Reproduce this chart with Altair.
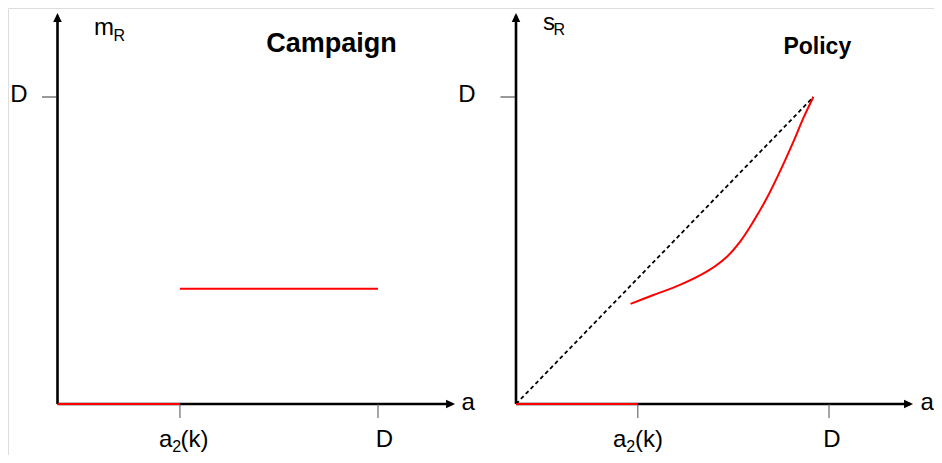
import altair as alt
import pandas as pd

FONT = "Liberation Sans"

# ---------------- data ----------------
# Campaign panel (left): axes a (horizontal) and m_R (vertical)
camp_tick_x = [0.382, 1.0]          # a2(k), D
camp_y_tick = [1.0]                 # D
camp_axis_end_x = 1.232
axis_end_y = 1.265
camp_level = 0.3756                 # m_R for a between a2(k) and D
camp_level_x = [0.382, 1.0]
camp_zero_x = [0.0, 0.382]          # m_R = 0 for a < a2(k)

# Policy panel (right): axes a (horizontal) and s_R (vertical)
pol_tick_x = [0.389, 1.0]           # a2(k), D
pol_y_tick = [1.0]
pol_axis_end_x = 1.260
pol_diag_x = [0.0, 0.950]
pol_diag_y = [0.0, 1.0]
pol_curve_x = [0.366, 0.439, 0.524, 0.609, 0.673, 0.716, 0.758, 0.801, 0.843, 0.886, 0.918, 0.950]
pol_curve_y = [0.326, 0.355, 0.388, 0.431, 0.479, 0.529, 0.594, 0.670, 0.757, 0.854, 0.931, 1.0]
pol_zero_x = [0.0, 0.389]

# ---------------- scales ----------------
YS = alt.Scale(domain=[-0.166124, 1.289902], nice=False, zero=False)
XS_L = alt.Scale(domain=[-0.154446, 2.734789], nice=False, zero=False)
XS_R = alt.Scale(domain=[-1.623003, 1.335463], nice=False, zero=False)

UP = "M0,-0.6L0.95,1.4L-0.95,1.4Z"
RIGHT = "M0.6,0L-1.4,-0.95L-1.4,0.95Z"

LBL = 24
SUB = 16


def enc(xs, text=False):
    e = dict(x=alt.X("x:Q", scale=xs, axis=None), y=alt.Y("y:Q", scale=YS, axis=None))
    if text:
        e["text"] = alt.Text("t:N")
    return e


def segs(x, y, x2, y2, xs, color, width, dash=None):
    df = pd.DataFrame({"x": x, "y": y, "x2": x2, "y2": y2})
    kw = dict(color=color, strokeWidth=width, strokeCap="butt")
    if dash:
        kw["strokeDash"] = dash
    return alt.Chart(df).mark_rule(**kw).encode(
        x=alt.X("x:Q", scale=xs, axis=None), y=alt.Y("y:Q", scale=YS, axis=None),
        x2="x2:Q", y2="y2:Q")


def label(x, y, t, xs, dx, dy, size=LBL, align="center", weight="normal"):
    df = pd.DataFrame({"x": [x], "y": [y], "t": [t]})
    return alt.Chart(df).mark_text(dx=dx, dy=dy, fontSize=size, align=align, baseline="alphabetic",
                                   font=FONT, fontWeight=weight, color="black").encode(**enc(xs, True))


def arrows(xend, xs):
    up = alt.Chart(pd.DataFrame({"x": [0.0], "y": [axis_end_y]})).mark_point(
        shape=UP, filled=True, size=81, color="black", opacity=1, strokeWidth=0).encode(**enc(xs))
    rt = alt.Chart(pd.DataFrame({"x": [xend], "y": [0.0]})).mark_point(
        shape=RIGHT, filled=True, size=81, color="black", opacity=1, strokeWidth=0).encode(**enc(xs))
    return [up, rt]


def ticks(tx, ty, xs):
    xt = alt.Chart(pd.DataFrame({"x": tx, "y": [0.0] * len(tx)})).mark_tick(
        orient="vertical", size=14, thickness=1.5, color="#555555", yOffset=7).encode(**enc(xs))
    yt = alt.Chart(pd.DataFrame({"x": [0.0] * len(ty), "y": ty})).mark_tick(
        orient="horizontal", size=15, thickness=1.3, color="#222222", xOffset=-8).encode(**enc(xs))
    return [xt, yt]


# ---------------- left panel ----------------
left_parts = [
    segs([camp_level_x[0]], [camp_level], [camp_level_x[1]], [camp_level], XS_L, "#ff0000", 2),
    segs([0.0, 0.0], [0.0, 0.0], [camp_axis_end_x, 0.0], [0.0, axis_end_y], XS_L, "black", 2.6),
    segs([camp_zero_x[0]], [0.0], [camp_zero_x[1]], [0.0], XS_L, "#ff0000", 2.2),
] + arrows(camp_axis_end_x, XS_L) + ticks(camp_tick_x, camp_y_tick, XS_L) + [
    label(0.0, camp_y_tick[0], "D", XS_L, -38.5, 5.5),
    label(camp_tick_x[0], 0.0, "a", XS_L, -21, 43.5, align="left"),
    label(camp_tick_x[0], 0.0, "2", XS_L, -7.7, 48.5, size=SUB, align="left"),
    label(camp_tick_x[0], 0.0, "(k)", XS_L, 28.5, 43.5, align="right"),
    label(camp_tick_x[1], 0.0, "D", XS_L, 6.5, 43.5),
    label(camp_axis_end_x, 0.0, "a", XS_L, 15.7, 6),
    label(0.0, axis_end_y, "m", XS_L, 36.5, 19.3, align="left"),
    label(0.0, axis_end_y, "R", XS_L, 56, 25, size=SUB, align="left"),
    label(camp_tick_x[1], axis_end_y, "Campaign", XS_L, -46.5, 36.3, size=27, weight="bold"),
]
left = alt.layer(*left_parts)

# ---------------- right panel ----------------
curve = alt.Chart(pd.DataFrame({"x": pol_curve_x, "y": pol_curve_y})).mark_line(
    color="#ff0000", strokeWidth=2, interpolate="catmull-rom").encode(**enc(XS_R))

right_parts = [
    segs([pol_diag_x[0]], [pol_diag_y[0]], [pol_diag_x[1]], [pol_diag_y[1]], XS_R, "black", 1.8, [4, 3]),
    curve,
    segs([0.0, 0.0], [0.0, 0.0], [pol_axis_end_x, 0.0], [0.0, axis_end_y], XS_R, "black", 2.6),
    segs([pol_zero_x[0]], [0.0], [pol_zero_x[1]], [0.0], XS_R, "#ff0000", 2.2),
] + arrows(pol_axis_end_x, XS_R) + ticks(pol_tick_x, pol_y_tick, XS_R) + [
    label(0.0, pol_y_tick[0], "D", XS_R, -49, 5.5),
    label(pol_tick_x[0], 0.0, "a", XS_R, -24.7, 43.5, align="left"),
    label(pol_tick_x[0], 0.0, "2", XS_R, -11.4, 48.5, size=SUB, align="left"),
    label(pol_tick_x[0], 0.0, "(k)", XS_R, 25.3, 43.5, align="right"),
    label(pol_tick_x[1], 0.0, "D", XS_R, 3, 43.5),
    label(pol_axis_end_x, 0.0, "a", XS_R, 16.8, 6),
    label(0.0, axis_end_y, "s", XS_R, 27, 14.3, align="left"),
    label(0.0, axis_end_y, "R", XS_R, 37.5, 19, size=SUB, align="left"),
    label(pol_tick_x[1], axis_end_y, "Policy", XS_R, -11.7, 38.3, size=23, weight="bold"),
]
right = alt.layer(*right_parts)

chart = alt.layer(left, right).resolve_scale(x="independent").properties(
    width=926, height=447, padding=0,
    autosize=alt.AutoSizeParams(type="none"),
).configure_view(stroke="#ffffff", strokeWidth=0, fill="#ffffff").configure(background="#ffffff")

chart.save("out.html", embed_options={"renderer": "svg", "actions": False})
